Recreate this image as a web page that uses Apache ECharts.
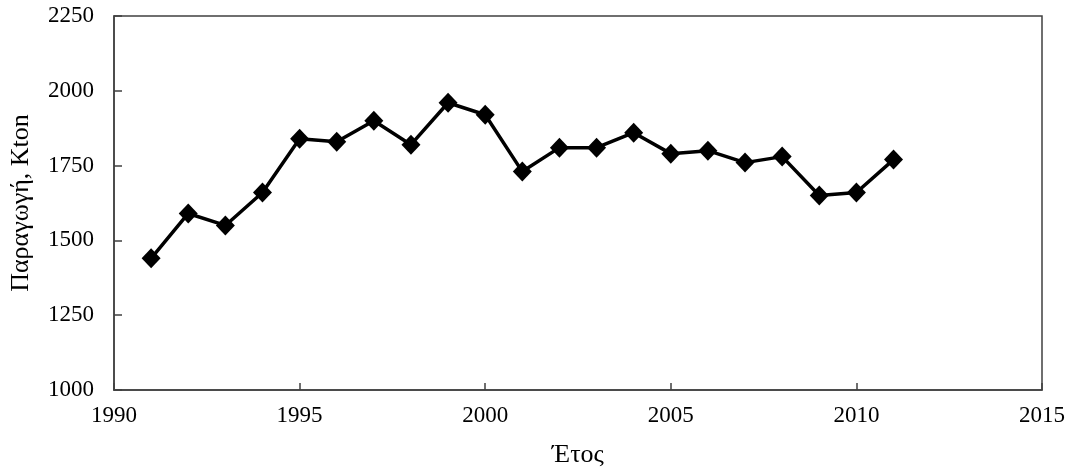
<!DOCTYPE html>
<html>
<head>
<meta charset="utf-8">
<script src="https://cdn.jsdelivr.net/npm/echarts@6/dist/echarts.min.js"></script>
<style>
  html, body { margin: 0; padding: 0; background: #fff; }
  #chart { width: 1080px; height: 470px; }
</style>
</head>
<body>
<div id="chart"></div>
<script>
// Annual production (Kton), 1991–2011
const years = [1991, 1992, 1993, 1994, 1995, 1996, 1997, 1998, 1999, 2000, 2001,
               2002, 2003, 2004, 2005, 2006, 2007, 2008, 2009, 2010, 2011];
const production = [1440, 1590, 1550, 1660, 1840, 1830, 1900, 1820, 1960, 1920, 1730,
                    1810, 1810, 1860, 1790, 1800, 1760, 1780, 1650, 1660, 1770];

const xAxisRange = { min: 1990, max: 2015, interval: 5 };
const yAxisRange = { min: 1000, max: 2250, interval: 250 };

const FONT = '"Liberation Serif", "DejaVu Serif", serif';
const AXIS_COLOR = '#404040';

const chart = echarts.init(document.getElementById('chart'), null, { renderer: 'canvas' });

chart.setOption({
  animation: false,
  backgroundColor: '#fff',
  grid: {
    left: 114, right: 38, top: 16, bottom: 80,
    outerBoundsMode: 'none',
    containLabel: false,
    show: true, borderColor: AXIS_COLOR, borderWidth: 1.5, backgroundColor: 'transparent'
  },
  xAxis: {
    type: 'value',
    min: xAxisRange.min, max: xAxisRange.max, interval: xAxisRange.interval,
    name: 'Έτος',
    nameLocation: 'middle',
    nameGap: 52,
    nameTextStyle: { fontFamily: FONT, fontSize: 26, color: '#000' },
    axisLine: { show: true, lineStyle: { color: AXIS_COLOR, width: 1.5 } },
    axisTick: { show: true, inside: true, length: 7, lineStyle: { color: AXIS_COLOR, width: 1.5 } },
    axisLabel: { fontFamily: FONT, fontSize: 23, color: '#000', margin: 14, formatter: v => String(v) },
    splitLine: { show: false }
  },
  yAxis: {
    type: 'value',
    min: yAxisRange.min, max: yAxisRange.max, interval: yAxisRange.interval,
    name: 'Παραγωγή, Κton',
    nameLocation: 'middle',
    nameGap: 80,
    nameRotate: 90,
    nameTextStyle: { fontFamily: FONT, fontSize: 26, color: '#000' },
    axisLine: { show: true, lineStyle: { color: AXIS_COLOR, width: 1.5 } },
    axisTick: { show: true, inside: true, length: 8, lineStyle: { color: AXIS_COLOR, width: 1.5 } },
    axisLabel: { fontFamily: FONT, fontSize: 23, color: '#000', margin: 20, formatter: v => String(v) },
    splitLine: { show: false }
  },
  series: [{
    type: 'line',
    data: years.map((y, i) => [y, production[i]]),
    symbol: 'diamond',
    symbolSize: [19, 20],
    showAllSymbol: true,
    lineStyle: { color: '#000', width: 3.5 },
    itemStyle: { color: '#000' }
  }]
});
</script>
</body>
</html>
